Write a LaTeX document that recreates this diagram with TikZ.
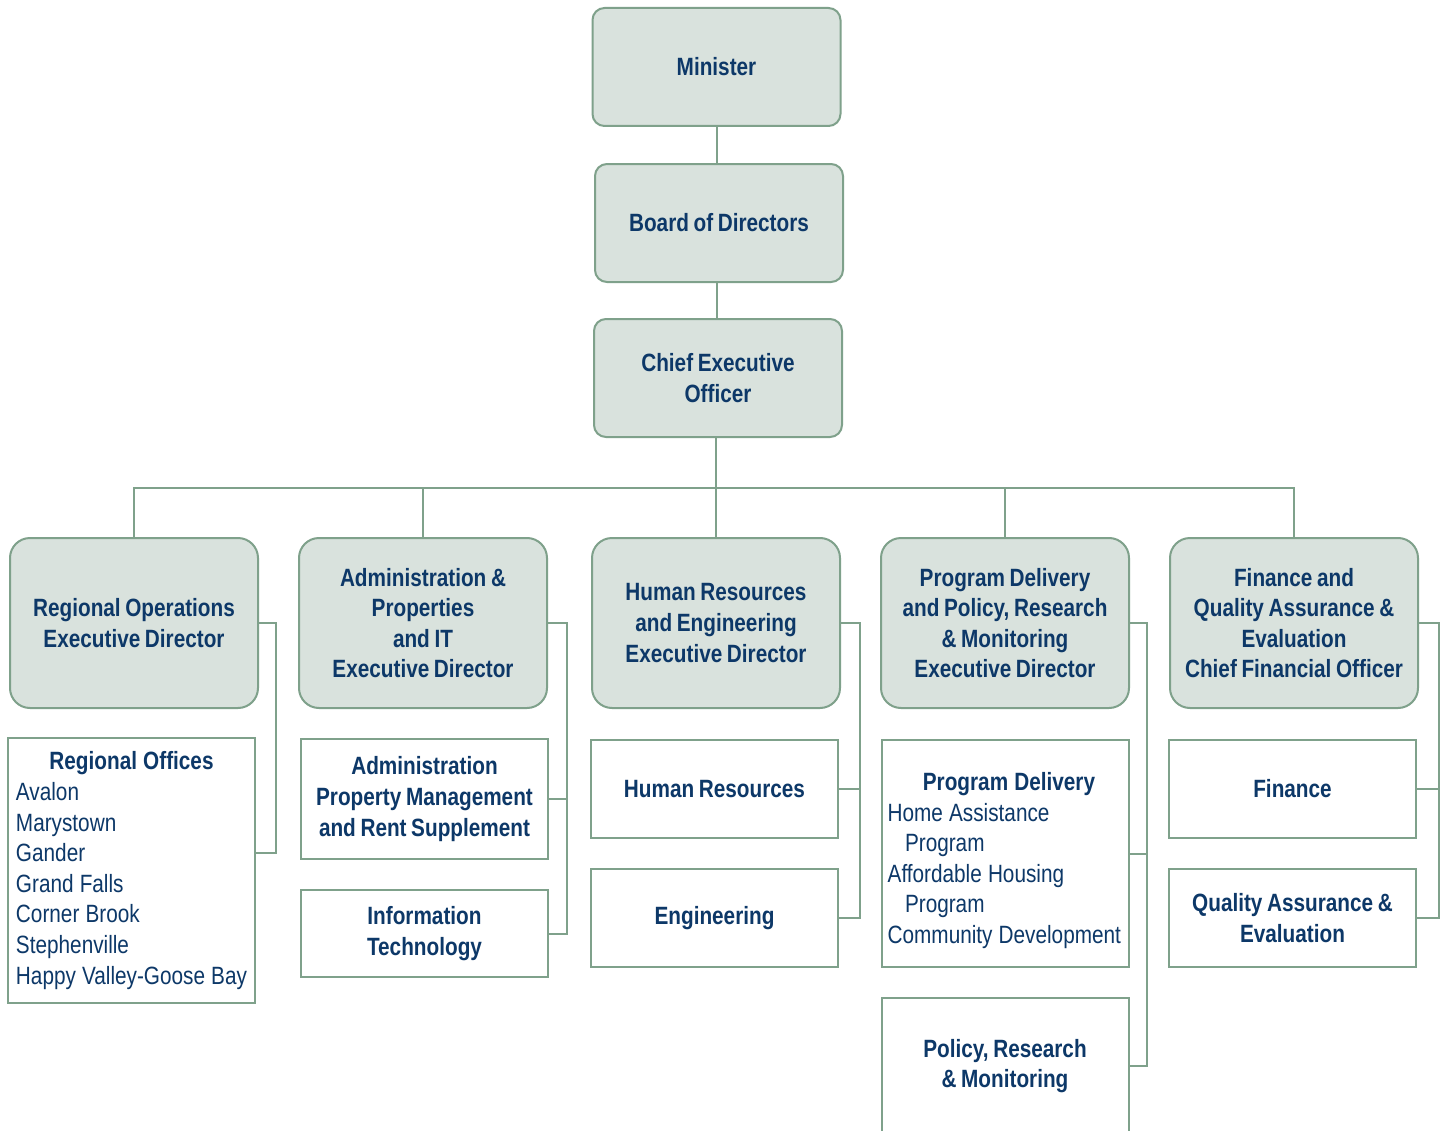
\documentclass[tikz,border=0pt]{standalone}
\usepackage{fontspec}
\setmainfont{Liberation Sans}[FakeStretch=0.83,WordSpace=0.8]
\usetikzlibrary{calc}
\definecolor{boxfill}{HTML}{D9E2DD}
\definecolor{edge}{HTML}{7FA18B}
\definecolor{ink}{HTML}{0D3868}
\newcommand{\lstline}[1]{\mbox{\spaceskip=4.6pt\relax #1}}
\tikzset{
  base/.style={draw=edge, line width=1.5pt, text=ink, inner sep=0pt, align=center,
    font=\fontsize{18.75}{22.95}\selectfont\bfseries},
  topbox/.style={base, fill=boxfill, rounded corners=9pt, minimum width=186pt, minimum height=88.5pt},
  rowbox/.style={base, fill=boxfill, rounded corners=15pt, minimum width=186pt, minimum height=127.5pt},
  unitbox/.style={base, fill=white, minimum width=185.25pt},
  link/.style={draw=edge, line width=1.5pt}
}
\begin{document}
\begin{tikzpicture}[x=0.75pt, y=-0.75pt]
\clip (0,0) rectangle (1447,1131);
\useasboundingbox (0,0) rectangle (1447,1131);
\fill[white] (0,0) rectangle (1447,1131);

% top chain
\node[topbox] (min) at (716.5,67) {Minister};
\node[topbox] (board) at (719,223) {Board of Directors};
\node[topbox] (ceo) at (718,378) {Chief Executive\\Officer};

% executive row
\node[rowbox] (ro) at (134,623) {Regional Operations\\Executive Director};
\node[rowbox] (adm) at (423,623) {Administration \&\\Properties\\and IT\\Executive Director};
\node[rowbox] (hr) at (716,623) {Human Resources\\and Engineering\\Executive Director};
\node[rowbox] (prog) at (1005,623) {Program Delivery\\and Policy, Research\\\& Monitoring\\Executive Director};
\node[rowbox] (fin) at (1294,623) {Finance and\\Quality Assurance \&\\Evaluation\\Chief Financial Officer};

% units
\node[unitbox, minimum height=198.75pt, text width=173.25pt, inner xsep=6pt, align=left] (roff) at (131.5,870.5)
  {\makebox[173.25pt][c]{\lstline{Regional Offices}}\\\mdseries
   \lstline{Avalon}\\\lstline{Marystown}\\\lstline{Gander}\\\lstline{Grand Falls}\\\lstline{Corner Brook}\\\lstline{Stephenville}\\\lstline{Happy Valley-Goose Bay}};
\node[unitbox, minimum height=90pt] (admp) at (424.5,799) {Administration\\Property Management\\and Rent Supplement};
\node[unitbox, minimum height=65.25pt] (it) at (424.5,933.5) {Information\\Technology};
\node[unitbox, minimum height=73.5pt] (hrb) at (714.5,789) {Human Resources};
\node[unitbox, minimum height=73.5pt] (eng) at (714.5,918) {Engineering};
\node[unitbox, minimum height=170.25pt, text width=176pt, inner xsep=4.6pt, align=left] (progd) at (1005,853.5)
  {\makebox[176pt][c]{\rule{0pt}{24pt}\hspace*{6pt}\lstline{Program Delivery}}\\\mdseries
   \lstline{Home Assistance}\\\lstline{\hspace*{13pt}Program}\\\lstline{Affordable Housing}\\\lstline{\hspace*{13pt}Program}\\\lstline{Community Development}};
\node[unitbox, minimum height=102pt] (pol) at (1005,1066) {Policy, Research\\\& Monitoring};
\node[unitbox, minimum height=73.5pt] (finb) at (1292.5,789) {Finance};
\node[unitbox, minimum height=73.5pt] (qa) at (1292.5,918) {Quality Assurance \&\\Evaluation};

% trunk
\draw[link] (min.south) -- (min.south |- board.north);
\draw[link] (min.south |- board.south) -- (min.south |- ceo.north);
\draw[link] (hr.north |- ceo.south) -- (hr.north);
\coordinate (bus) at (716,488);
\draw[link] (ro.north) |- (bus) -| (fin.north);
\draw[link] (adm.north) -- (adm.north |- bus);
\draw[link] (prog.north) -- (prog.north |- bus);

% side brackets
\coordinate (roX) at (276,623);
\coordinate (roffC) at ($(roff.east)+(0,-18)$);
\draw[link] (ro.east) -- (roX) |- (roffC);

\coordinate (admX) at (567,623);
\draw[link] (adm.east) -- (admX) |- (it.east);
\draw[link] (admp.east) -- (admp.east -| admX);

\coordinate (hrX) at (860,623);
\draw[link] (hr.east) -- (hrX) |- (eng.east);
\draw[link] (hrb.east) -- (hrb.east -| hrX);

\coordinate (progX) at (1147,623);
\draw[link] (prog.east) -- (progX) |- (pol.east);
\draw[link] (progd.east) -- (progd.east -| progX);

\coordinate (finX) at (1439,623);
\draw[link] (fin.east) -- (finX) |- (qa.east);
\draw[link] (finb.east) -- (finb.east -| finX);
\end{tikzpicture}
\end{document}
